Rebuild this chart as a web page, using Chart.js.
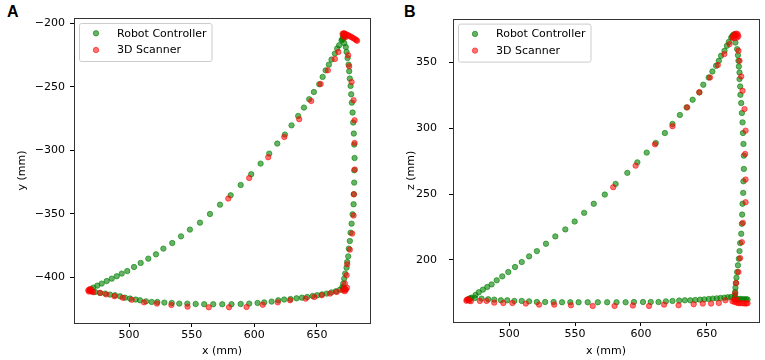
<!DOCTYPE html>
<html>
<head>
<meta charset="utf-8">
<script src="https://cdn.jsdelivr.net/npm/chart.js@4.4.0/dist/chart.umd.min.js"></script>
<style>
  body { margin: 0; background: #fff; width: 765px; height: 360px; position: relative; overflow: hidden; }
  .panel { position: absolute; top: 0; width: 380px; height: 360px; }
  .tag { position: absolute; top: 4px; font: bold 16px 'Liberation Sans', Arial, sans-serif; line-height: 16px; color: #000; }
</style>
</head>
<body>
<div class="tag" style="left:7px">A</div>
<div class="tag" style="left:404px">B</div>
<div class="panel" style="left:0"><canvas id="chartA" width="380" height="360"></canvas></div>
<div class="panel" style="left:385px"><canvas id="chartB" width="380" height="360"></canvas></div>

<script>
// ---- data ----
const seriesNames = ['Robot Controller', '3D Scanner'];

const xTicks = [500, 550, 600, 650];
const yTicksA = [-400, -350, -300, -250, -200];
const zTicksB = [200, 250, 300, 350];

// panel A : x (mm) vs y (mm)
const robotA = [
  [670.7,-209.2],[671.5,-208],[672.3,-210],[671,-211.5],[670.2,-212.5],[671.8,-215.5],
  [673.0,-218.5],[673.6,-222.4],[674.4,-227.2],[675.2,-232.4],[675.7,-237.6],[676.2,-243.4],
  [676.8,-249.2],[677.3,-255.8],[677.8,-262.4],[678.4,-270.2],[678.9,-278.1],[679.4,-286.8],
  [679.7,-295.5],[680.0,-306.1],[679.7,-315.8],[679.7,-325.5],[679.4,-334.7],[679.2,-342.6],
  [678.4,-350.5],[677.6,-357.9],[676.8,-365.0],[676.2,-371.6],[675.4,-377.6],[674.9,-383.7],
  [674.1,-388.2],[673.6,-392.6],[672.5,-397.3],[671.7,-401.3],[670.9,-405.2],[670.3,-407.9],
  [671.5,-409.0],[672.5,-409.6],[670.9,-409.2],
  [668.3,-410.0],[665.1,-411.3],[661.6,-412.1],[657.7,-413.1],[654.0,-413.7],[650.2,-414.4],
  [646.5,-415.0],[642.2,-415.8],[638.0,-416.3],[633.7,-416.8],[628.9,-417.4],[623.8,-417.8],
  [619.1,-418.4],[613.8,-419.4],[607.9,-420.0],[602.6,-420.5],[595.9,-421.0],[589.1,-421.3],
  [581.8,-421.5],[574.4,-421.5],[567.2,-421.5],[560.0,-421.5],[553.2,-421.3],[546.5,-421.0],
  [540.1,-421.0],[534.1,-420.5],[528.2,-420.2],[522.6,-419.7],[518.1,-419.7],[513.6,-419.2],
  [508.8,-418.4],[505.3,-417.8],[500.8,-417.0],[496.8,-416.3],[492.8,-415.2],[488.8,-414.4],
  [484.8,-413.9],[480.9,-413.1],[476.9,-412.6],[472.9,-411.8],
  [469.5,-411.0],[468.9,-410.5],[470.2,-409.8],
  [471.5,-408.4],[474.7,-406.8],[478.2,-405.2],[482.2,-403.2],[486.2,-401.3],[490.2,-399.4],
  [494.2,-397.3],[498.6,-395.3],[504.0,-392.1],[509.3,-388.9],[515.4,-385.5],[521.5,-382.1],
  [527.4,-377.6],[534.5,-373.2],[541.5,-367.9],[548.6,-362.6],[556.6,-357.1],[564.6,-350.3],
  [572.6,-342.9],[581.1,-335.5],[589.1,-327.4],[597.5,-318.9],[605.0,-310.5],[611.9,-302.6],
  [618.3,-294.7],[624.4,-287.6],[629.7,-280.3],[635.0,-272.9],[639.6,-266.3],[643.8,-259.7],
  [647.5,-254.0],[651.8,-247.9],[654.5,-242.1],[656.9,-236.9],[659.5,-232.4],[661.6,-228.4],
  [664.3,-223.7],[666.1,-219.7],[667.7,-217.1],[669.6,-213.2]
];
const scannerA = [
  [670.4,-208],[671.5,-207.6],[672.6,-208.2],[673.7,-208.6],[674.8,-209.2],[675.9,-209.8],
  [677.0,-210.4],[678.1,-211],[679.2,-211.6],[680.3,-212.3],[681.4,-213],[682.0,-213.6],
  [671.2,-210],[672.5,-211],
  [667.1,-222.4],[664.3,-227.9],[658.7,-236.9],[652.9,-247.7],[645.4,-261.1],[635.8,-275.5],
  [623.9,-289.5],[611.1,-305.5],[595.9,-321.9],[579.2,-338.1],
  [674.9,-225.0],[675.7,-233.7],[677.6,-246.1],[679.2,-260.5],[680.0,-276.3],[680.0,-294.2],
  [680.2,-315.2],[679.4,-334.7],[679.2,-351.5],[678.1,-365.7],[676.2,-378.4],[674.1,-390.0],
  [673.6,-398.6],[672.3,-405.2],
  [671.5,-409],[673.1,-410],[673.9,-408.4],[670.6,-410.5],[672.2,-411.2],
  [665.8,-411.8],[660.4,-413.1],[653.8,-414.4],[647.9,-415.8],[641.0,-417.1],[628.5,-418.4],
  [618.7,-420.0],[606.7,-421.9],[593.8,-423.7],[579.8,-423.9],[563.6,-423.9],[546.7,-423.4],
  [533.8,-422.1],[522.3,-421.0],[512.0,-420.0],[502.2,-418.0],[495.0,-416.4],[488.4,-415.2],
  [481.9,-413.7],[476.9,-412.5],
  [467.5,-410.5],[468.5,-410],[469.5,-411],[470.5,-411.5],[471.5,-412],[468,-411.5],[469,-409.5]
];

// panel B : x (mm) vs z (mm)
const robotB = [
  [670.1,371.0],[671,371.5],[672,370.5],[669.5,370],
  [671.8,365.2],[673.1,360.2],[673.7,355.6],[674.1,351.3],[674.4,347.0],[674.9,342.4],
  [674.9,337.4],[675.4,331.8],[675.6,325.5],[676.2,319.2],[676.7,311.6],[677.2,304.5],
  [677.5,296.4],[677.9,288.1],[678.2,279.2],[678.2,269.1],[677.9,259.7],[677.7,250.9],
  [677.2,242.6],[676.9,234.4],[676.7,227.4],[676.2,219.8],[675.4,212.7],[674.9,206.6],
  [674.4,200.8],[673.7,195.8],[673.1,190.7],[672.6,186.4],[672.1,182.3],[671.8,178.8],
  [671.6,175.5],[671.1,171.7],
  [671,170],[672.5,170],[674,170],[675.5,170.2],[677,170],[678.5,170],[680,170],[681,169.8],[671.5,173],
  [668.5,171.7],[666.0,171.5],[663.4,171.2],[660.4,170.9],[657.6,170.7],[654.6,170.5],
  [651.5,170.2],[648.2,169.9],[644.9,169.7],[641.3,169.4],[637.5,169.2],[633.4,169.2],
  [629.1,169.0],[624.0,168.7],[619.0,168.4],[613.4,167.9],[607.5,167.9],[601.6,167.9],
  [594.7,167.9],[588.4,167.7],[581.5,167.7],[574.4,167.7],[567.3,167.7],[559.6,167.7],
  [552.7,167.7],[546.4,167.7],[540.1,167.7],[533.7,167.9],[527.3,167.9],[521.0,167.9],
  [515.1,168.4],[509.5,168.7],[503.9,168.7],[498.5,169.2],[493.7,169.2],[488.6,169.7],
  [484.0,170.0],[479.0,170.5],[473.9,170.9],
  [468.8,169.7],[469.5,170.3],[470.5,170.8],
  [471.4,171.2],[474.4,173.2],[476.9,175.3],[480.0,177.3],[483.3,179.3],[486.6,181.3],
  [490.5,184.4],[494.7,187.4],[499.3,190.7],[504.4,194.5],[509.5,198.3],[515.1,202.6],
  [521.0,206.6],[527.9,212.2],[535.0,217.8],[542.6,223.1],[549.7,229.1],[556.9,235.7],
  [564.2,242.6],[572.6,249.6],[580.8,257.7],[589.7,266.1],[597.3,274.1],[604.4,281.5],
  [611.3,288.8],[618.2,296.4],[624.0,303.3],[629.6,310.1],[634.7,315.9],[639.3,321.7],
  [644.4,327.2],[647.4,333.1],[651.5,338.6],[654.3,343.2],[657.1,347.5],[659.2,351.3],
  [660.9,355.1],[663.5,358.9],[665.3,362.7],[666.8,365.7],[668.6,369.0]
];
const scannerB = [
  [669.5,369],[670.5,370.5],[671.5,371.5],[672.5,372],[673.5,371.5],[674,370],[671,368.5],[673,369],
  [667.3,364.0],[663.4,356.4],[658.4,348.1],[652.5,338.6],[644.4,327.5],[635.2,315.9],
  [624.0,301.6],[610.7,287.8],[596.0,271.6],[579.0,255.2],
  [674.1,358.9],[674.9,351.3],[676.2,339.4],[677.2,328.5],[678.7,314.6],[679.5,298.2],
  [679.2,280.5],[679.5,261.0],[679.5,243.8],[677.5,228.1],[676.7,213.4],[675.4,201.3],
  [674.1,190.7],[672.4,182.3],[671.6,174.5],
  [669.5,168.5],[671,168],[672.5,167.5],[674,167],[675.5,167],[677,167],[678.5,166.8],
  [680,166.8],[681,167],[671,170],[673,169.5],
  [664.2,169.2],[659.2,167.1],[653.3,166.7],[647.0,166.7],[640.1,166.2],[628.6,165.4],
  [617.6,165.9],[606.2,164.9],[593.9,165.2],[580.0,164.9],[563.4,164.9],[546.9,165.4],
  [534.2,165.9],[522.7,165.9],[512.6,166.7],[502.4,167.1],[495.5,167.1],[488.6,167.4],
  [482.8,168.7],[477.7,168.7],
  [467.8,169.6],[468.8,170],[469.8,169],[470.8,168.5],[467.5,168.8]
];

const GREEN = 'rgba(0,128,0,0.6)';
const RED = 'rgba(255,0,0,0.55)';
const FONT = "'DejaVu Sans', sans-serif";

Chart.defaults.font.family = FONT;
Chart.defaults.font.size = 11;
Chart.defaults.color = '#000';

const toPts = arr => arr.map(p => ({ x: p[0], y: p[1] }));
const fmt = v => (v < 0 ? '\u2212' + Math.abs(v) : String(v));

// frame around the plot + matplotlib-like legend in the upper left
const framePlugin = {
  id: 'frameLegend',
  afterDatasetsDraw(chart) {
    const { ctx, chartArea: a } = chart;
    ctx.save();
    ctx.strokeStyle = '#333';
    ctx.lineWidth = 1;
    ctx.strokeRect(Math.round(a.left) + 0.5, Math.round(a.top) + 0.5,
                   Math.round(a.right - a.left), Math.round(a.bottom - a.top));

    ctx.font = '11px ' + FONT;
    const sets = chart.data.datasets;
    const textX = a.left + 43;
    const w = Math.max(...sets.map(d => ctx.measureText(d.label).width));
    const bx = a.left + 5, by = a.top + 5, bw = textX + w + 5 - bx, bh = 38;
    ctx.beginPath();
    ctx.roundRect(bx + 0.5, by + 0.5, bw, bh, 2);
    ctx.fillStyle = 'rgba(255,255,255,0.8)';
    ctx.fill();
    ctx.strokeStyle = '#ccc';
    ctx.stroke();

    sets.forEach((d, i) => {
      const cy = by + 10.3 + i * 16.7;
      ctx.beginPath();
      ctx.arc(a.left + 22, cy, 2.7, 0, Math.PI * 2);
      ctx.fillStyle = d.backgroundColor;
      ctx.fill();
      ctx.strokeStyle = d.borderColor;
      ctx.stroke();
      ctx.fillStyle = '#000';
      ctx.textBaseline = 'middle';
      ctx.fillText(d.label, textX, cy + 0.5);
    });
    ctx.restore();
  }
};

function makePanel(id, robot, scanner, cfg) {
  new Chart(document.getElementById(id), {
    type: 'scatter',
    data: {
      datasets: [
        { label: seriesNames[0], data: toPts(robot), backgroundColor: GREEN, borderColor: GREEN,
          pointRadius: 2.7, borderWidth: 1, order: 2 },
        { label: seriesNames[1], data: toPts(scanner), backgroundColor: RED, borderColor: RED,
          pointRadius: 2.7, borderWidth: 1, order: 1 }
      ]
    },
    options: {
      responsive: false,
      animation: false,
      events: [],
      layout: { padding: { top: 18, right: cfg.padRight, bottom: 0, left: 0 } },
      plugins: { legend: { display: false }, tooltip: { enabled: false } },
      scales: {
        x: {
          type: 'linear', min: cfg.xMin, max: cfg.xMax,
          afterBuildTicks: s => { s.ticks = xTicks.map(v => ({ value: v })); },
          afterFit: s => { s.height = cfg.xAxisH; },
          grid: { drawOnChartArea: false, drawTicks: true, tickLength: 4, tickColor: '#000' },
          border: { display: false },
          ticks: { padding: 2, color: '#000', maxRotation: 0, callback: fmt },
          title: { display: true, text: 'x (mm)', color: '#000', padding: { top: 0, bottom: 2 } }
        },
        y: {
          type: 'linear', min: cfg.yMin, max: cfg.yMax,
          afterBuildTicks: s => { s.ticks = cfg.yTicks.map(v => ({ value: v })); },
          afterFit: s => { s.width = cfg.yAxisW; },
          grid: { drawOnChartArea: false, drawTicks: true, tickLength: 4, tickColor: '#000' },
          border: { display: false },
          ticks: { padding: cfg.yTickPad, color: '#000', callback: fmt },
          title: { display: true, text: cfg.yTitle, color: '#000', padding: { top: cfg.yTitlePad, bottom: 0 } }
        }
      }
    },
    plugins: [framePlugin]
  });
}

makePanel('chartA', robotA, scannerA, {
  xMin: 456.1, xMax: 692.3, yMin: -436.3, yMax: -195.6, yTicks: yTicksA,
  yTitle: 'y (mm)', yAxisW: 74, xAxisH: 37, padRight: 10, yTickPad: 5, yTitlePad: 16
});
makePanel('chartB', robotB, scannerB, {
  xMin: 457.3, xMax: 689.7, yMin: 152.7, yMax: 383.4, yTicks: zTicksB,
  yTitle: 'z (mm)', yAxisW: 68, xAxisH: 38, padRight: 6, yTickPad: 12, yTitlePad: 20
});
</script>
</body>
</html>
